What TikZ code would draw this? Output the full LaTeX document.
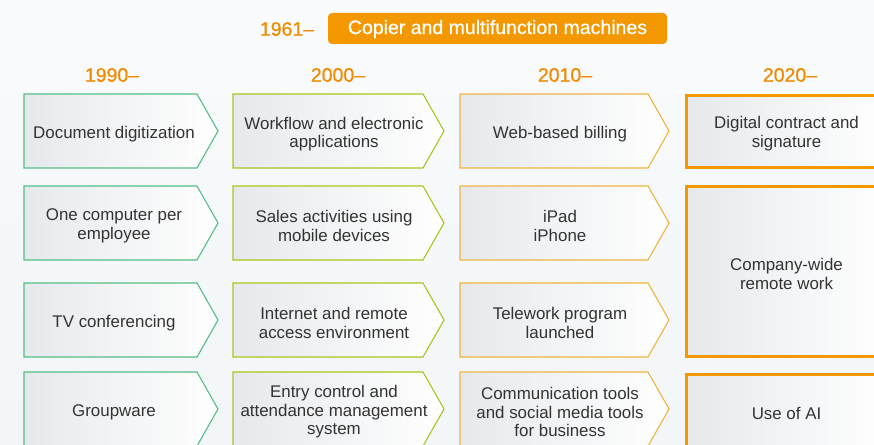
\documentclass[tikz,border=0pt]{standalone}
\usepackage{fontspec}
\setmainfont{Liberation Sans}
\newfontfamily\medfont[FakeBold=0.6,Ligatures=TeX]{Liberation Sans}
\definecolor{cA}{HTML}{55BE85}
\definecolor{cB}{HTML}{A8C61E}
\definecolor{cC}{HTML}{EFB440}
\definecolor{cD}{HTML}{F39800}
\definecolor{yr}{HTML}{F08A00}
\definecolor{txt}{HTML}{333333}
\definecolor{bgtop}{HTML}{F9FBFC}
\definecolor{bgbot}{HTML}{F2F6F9}
\definecolor{boxl}{HTML}{E6E9EC}
\tikzset{
  boxtext/.style={align=center, text=txt, font=\fontsize{16.9}{18.5}\selectfont, inner sep=0pt, yshift=-2.5pt},
  yeartext/.style={text=yr, font=\medfont\fontsize{19.5}{22}\selectfont, inner sep=0pt},
  chevline/.style={line width=1.1pt, line join=miter},
  thickline/.style={line width=3pt, draw=cD},
}
% #1 left x, #2 body end x, #3 top y, #4 colour, #5 node name, #6 text x, #7 text
\newcommand{\chevbox}[7]{%
  \shade[left color=boxl, right color=white] (#1,#3) -- (#2,#3) -- (#2+21,#3+37) -- (#2,#3+74) -- (#1,#3+74) -- cycle;
  \draw[chevline, draw=#4] (#1,#3) -- (#2,#3) -- (#2+21,#3+37) -- (#2,#3+74) -- (#1,#3+74) -- cycle;
  \node[boxtext] (#5) at (#6,#3+37.5) {#7};
}
% #1 top y, #2 bottom y, #3 name, #4 text
\newcommand{\wbox}[4]{%
  \shade[left color=boxl, right color=white] (686,#1) rectangle (887,#2);
  \draw[thickline] (686,#1) rectangle (887,#2);
  \node[boxtext] (#3) at (786.5,{(#1+#2)/2}) {#4};
}
\begin{document}
\begin{tikzpicture}[x=1pt,y=-1pt]
\useasboundingbox (0,0) rectangle (874,444);
\clip (0,0) rectangle (874,444);
\shade[top color=bgtop, bottom color=bgbot] (0,0) rectangle (874,444);

% header
\node[yeartext] (y1961) at (287,29) {1961–};
\fill[cD, rounded corners=4pt] (328,13) rectangle (667,44);
\node[text=white, font=\medfont\fontsize{19.5}{22}\selectfont, inner sep=0pt] (copier) at (497.5,29) {Copier and multifunction machines};

% years
\node[yeartext] (y1990) at (112,75) {1990–};
\node[yeartext] (y2000) at (338,75) {2000–};
\node[yeartext] (y2010) at (565,75) {2010–};
\node[yeartext] (y2020) at (790,75) {2020–};

% column 1990
\chevbox{24}{197}{94}{cA}{a1}{114}{Document digitization}
\chevbox{24}{197}{186}{cA}{a2}{114}{One computer per\\employee}
\chevbox{24}{197}{283}{cA}{a3}{114}{TV conferencing}
\chevbox{24}{197}{372}{cA}{a4}{114}{Groupware}

% column 2000
\chevbox{233}{423}{94}{cB}{b1}{334}{Workflow and electronic\\applications}
\chevbox{233}{423}{186}{cB}{b2}{334}{Sales activities using\\mobile devices}
\chevbox{233}{423}{283}{cB}{b3}{334}{Internet and remote\\access environment}
\chevbox{233}{423}{372}{cB}{b4}{334}{Entry control and\\attendance management\\system}

% column 2010
\chevbox{460}{648}{94}{cC}{c1}{560}{Web-based billing}
\chevbox{460}{648}{186}{cC}{c2}{560}{iPad\\iPhone}
\chevbox{460}{648}{283}{cC}{c3}{560}{Telework program\\launched}
\chevbox{460}{648}{372}{cC}{c4}{560}{Communication tools\\and social media tools\\for business}

% column 2020
\wbox{95}{167.5}{d1}{Digital contract and\\signature}
\wbox{186}{356.5}{d2}{Company-wide\\remote work}
\wbox{374}{448}{d3}{Use of AI}
\end{tikzpicture}
\end{document}
